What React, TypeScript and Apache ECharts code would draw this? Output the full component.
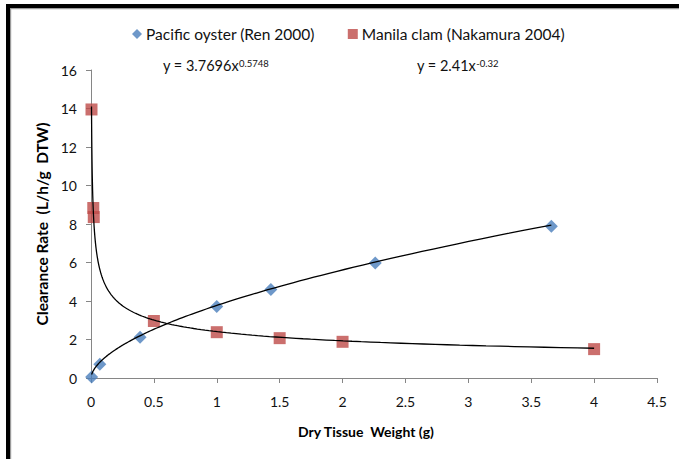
import React, { useEffect, useRef } from "react";
import * as echarts from "echarts";

const oysterX = [0.005, 0.07, 0.39, 1.0, 1.43, 2.26, 3.66];
const oysterY = [0.05, 0.72, 2.12, 3.72, 4.6, 5.98, 7.88];
const clamX = [0.004, 0.018, 0.022, 0.5, 1.0, 1.5, 2.0, 4.0];
const clamY = [13.95, 8.83, 8.36, 2.96, 2.38, 2.07, 1.88, 1.5];

// Power trendline coefficients shown on the chart: y = a * x^b
const oysterFitA = 3.7696;
const oysterFitB = 0.5748;
const clamFitA = 2.41;
const clamFitB = -0.32;

const seriesNames = ["Pacific oyster (Ren 2000)", "Manila clam (Nakamura 2004)"];
const xAxisTitle = "Dry Tissue  Weight (g)";
const yAxisTitle = "Clearance Rate  (L/h/g  DTW)";

const FONT = "Lato, 'Open Sans', sans-serif";

function trendline(a: number, b: number, xs: number[]) {
  const lo = Math.min(...xs);
  const hi = Math.max(...xs);
  const pts: number[][] = [];
  const n = 200;
  for (let i = 0; i <= n; i++) {
    const x = lo * Math.pow(hi / lo, i / n);
    pts.push([x, a * Math.pow(x, b)]);
  }
  return pts;
}

function eqText(a: number, b: number, left: number) {
  return {
    type: "text",
    left,
    top: 57,
    style: {
      text: "{b|y = " + a + "x}{s|" + b + "}",
      rich: {
        b: { fontFamily: FONT, fontSize: 14.5, fill: "#111", lineHeight: 16 },
        s: { fontFamily: FONT, fontSize: 9.5, fill: "#111", lineHeight: 16, verticalAlign: "top", padding: [1, 0, 0, 0] },
      },
    },
  };
}

export default function App() {
  const ref = useRef<HTMLDivElement>(null);
  useEffect(() => {
    if (!ref.current) return;
    const chart = echarts.init(ref.current, null, { renderer: "svg" });
    const axisLine = { lineStyle: { color: "#868686", width: 1 } };
    chart.setOption({
      animation: false,
      backgroundColor: "#ffffff",
      textStyle: { fontFamily: FONT },
      grid: { left: 91, right: 22, top: 70, bottom: 81, containLabel: false },
      legend: {
        left: 127,
        top: 21,
        itemWidth: 10,
        itemHeight: 10,
        itemGap: 33,
        data: seriesNames,
        textStyle: { fontFamily: FONT, fontSize: 15.5, color: "#111", padding: [0, 0, 0, -1] },
      },
      xAxis: {
        type: "value",
        min: 0,
        max: 4.5,
        interval: 0.5,
        name: xAxisTitle,
        nameLocation: "middle",
        nameGap: 46,
        nameTextStyle: { fontFamily: FONT, fontWeight: "bold", fontSize: 14, color: "#000", padding: [0, 16, 0, 0] },
        axisLine: { show: true, ...axisLine },
        axisTick: { show: true, length: 5, lineStyle: { color: "#868686" } },
        axisLabel: { fontFamily: FONT, fontSize: 14, color: "#111", margin: 16 },
        splitLine: { show: false },
      },
      yAxis: {
        type: "value",
        min: 0,
        max: 16,
        interval: 2,
        name: yAxisTitle,
        nameLocation: "middle",
        nameGap: 39,
        nameTextStyle: { fontFamily: FONT, fontWeight: "bold", fontSize: 15.5, color: "#000" },
        axisLine: { show: true, ...axisLine },
        axisTick: { show: true, length: 5, lineStyle: { color: "#868686" } },
        axisLabel: { fontFamily: FONT, fontSize: 14, color: "#111", margin: 14 },
        splitLine: { show: false },
      },
      series: [
        {
          name: seriesNames[0],
          type: "scatter",
          symbol: "diamond",
          symbolSize: 13,
          itemStyle: { color: "#4A7EBB" },
          data: oysterX.map((x, i) => [x, oysterY[i]]),
          z: 2,
        },
        {
          name: seriesNames[1],
          type: "scatter",
          symbol: "rect",
          symbolSize: 12,
          itemStyle: { color: "#BE4B48" },
          data: clamX.map((x, i) => [x, clamY[i]]),
          z: 2,
        },
        {
          type: "line",
          showSymbol: false,
          symbol: "none",
          lineStyle: { color: "#000", width: 1.3 },
          data: trendline(oysterFitA, oysterFitB, oysterX),
          z: 5,
          silent: true,
        },
        {
          type: "line",
          showSymbol: false,
          symbol: "none",
          lineStyle: { color: "#000", width: 1.3 },
          data: trendline(clamFitA, clamFitB, clamX),
          z: 5,
          silent: true,
        },
      ],
      graphic: [
        { type: "rect", shape: { x: 6, y: 4, width: 4, height: 470 }, style: { fill: "#000" }, silent: true },
        { type: "rect", shape: { x: 6, y: 4, width: 690, height: 4 }, style: { fill: "#000" }, silent: true },
        { type: "rect", shape: { x: 10, y: 8, width: 1.2, height: 470 }, style: { fill: "#9a9a9a" }, silent: true },
        { type: "rect", shape: { x: 10, y: 8, width: 690, height: 1.2 }, style: { fill: "#9a9a9a" }, silent: true },
        eqText(oysterFitA, oysterFitB, 163),
        eqText(clamFitA, clamFitB, 417),
      ],
    });
    return () => chart.dispose();
  }, []);
  return (
    <div
      ref={ref}
      style={{ position: "fixed", left: 0, top: 0, width: 679, height: 459, background: "#fff" }}
    />
  );
}
